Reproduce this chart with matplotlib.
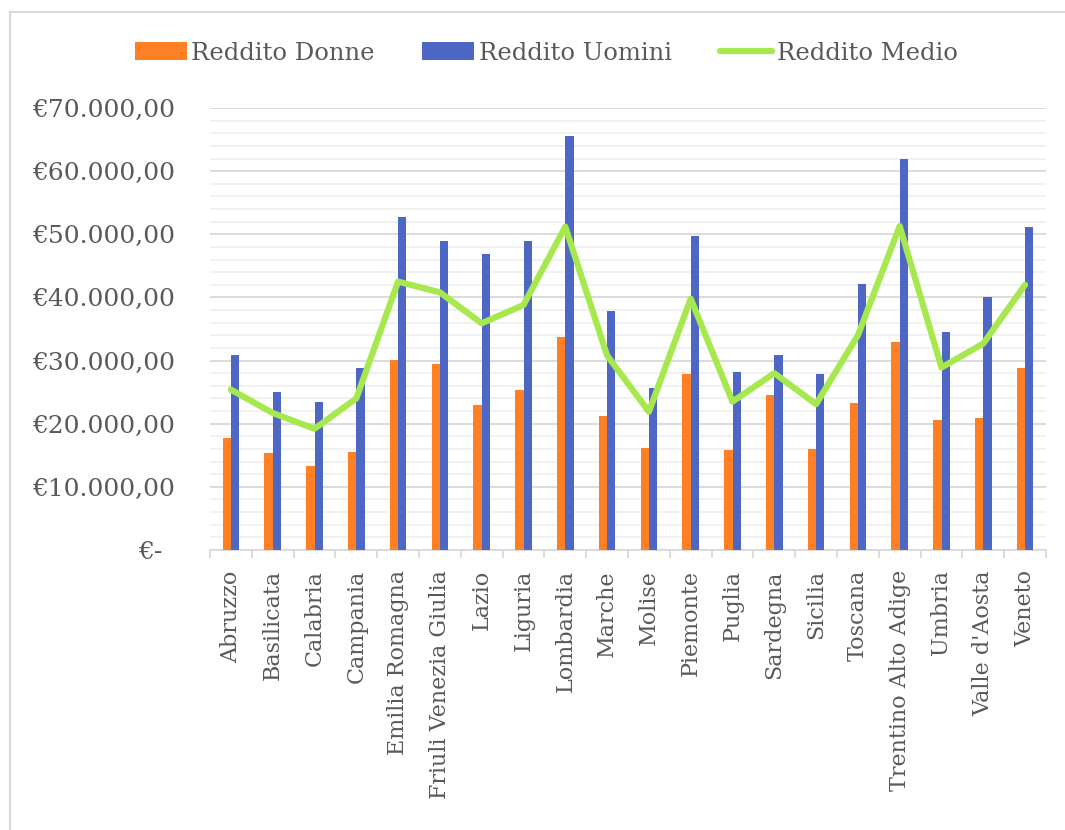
import matplotlib
matplotlib.use("Agg")
import matplotlib.pyplot as plt
from matplotlib.patches import Rectangle
from matplotlib.ticker import FixedLocator, MultipleLocator
import numpy as np

regioni = ["Abruzzo", "Basilicata", "Calabria", "Campania", "Emilia Romagna",
           "Friuli Venezia Giulia", "Lazio", "Liguria", "Lombardia", "Marche",
           "Molise", "Piemonte", "Puglia", "Sardegna", "Sicilia", "Toscana",
           "Trentino Alto Adige", "Umbria", "Valle d'Aosta", "Veneto"]
reddito_donne = [17800, 15400, 13300, 15500, 30100, 29400, 23000, 25300, 33800, 21300,
                 16100, 27900, 15800, 24500, 16000, 23300, 33000, 20600, 20900, 28900]
reddito_uomini = [30900, 25100, 23500, 28900, 52700, 49000, 46900, 48900, 65500, 37800,
                  25700, 49800, 28200, 30900, 27800, 42200, 61900, 34600, 40000, 51200]
reddito_medio = [25400, 21700, 19200, 24000, 42500, 40800, 35900, 38800, 51200, 30800,
                 21900, 39800, 23500, 28000, 23100, 34000, 51300, 28900, 32700, 42000]
y_ticks = [0, 10000, 20000, 30000, 40000, 50000, 60000, 70000]
y_labels = ["€-\u2002", "€10.000,00", "€20.000,00", "€30.000,00", "€40.000,00",
            "€50.000,00", "€60.000,00", "€70.000,00"]

plt.rcParams['font.family'] = ['DejaVu Serif']
TXT = "#595959"
W, H = 1065, 830
fig = plt.figure(figsize=(W / 100, H / 100), dpi=100)
fig.patches.append(Rectangle((10 / W, -0.05), 1.1, 1 - 12 / H + 0.05, transform=fig.transFigure,
                             fill=False, edgecolor="#d9d9d9", linewidth=1.5))

ax = fig.add_axes([210 / W, 1 - 550 / H, (1046 - 210) / W, (550 - 108) / H])
x = np.arange(len(regioni))
bw = 0.2
b1 = ax.bar(x - bw / 2, reddito_donne, width=bw, color="#FF7F24", label="Reddito Donne", zorder=3)
b2 = ax.bar(x + bw / 2, reddito_uomini, width=bw, color="#4E66C4", label="Reddito Uomini", zorder=3)
l1, = ax.plot(x, reddito_medio, color="#A6E84E", linewidth=4.5, solid_capstyle="round",
              solid_joinstyle="round", label="Reddito Medio", zorder=4)

ax.set_xlim(-0.5, len(regioni) - 0.5)
ax.set_ylim(0, 70000)
ax.set_yticks(y_ticks)
ax.set_yticklabels(y_labels)
ax.yaxis.set_minor_locator(MultipleLocator(2000))
ax.grid(which="major", axis="y", color="#d9d9d9", linewidth=1.3, zorder=0)
ax.grid(which="minor", axis="y", color="#f0f0f0", linewidth=1.3, zorder=0)
ax.tick_params(axis="y", which="both", length=0, pad=25, labelsize=17.9, labelcolor=TXT)

ax.set_xticks(x)
ax.set_xticklabels(regioni, rotation=90)
ax.xaxis.set_minor_locator(FixedLocator(np.arange(-0.5, len(regioni), 1.0)))
ax.tick_params(axis="x", which="major", length=0, pad=14.5, labelsize=16.0, labelcolor=TXT)
ax.tick_params(axis="x", which="minor", length=6, width=1.3, color="#d9d9d9", direction="out")

for s in ["top", "right", "left"]:
    ax.spines[s].set_visible(False)
ax.spines["bottom"].set_color("#d9d9d9")
ax.spines["bottom"].set_linewidth(1.3)
ax.set_axisbelow(True)

leg = fig.legend([b1, b2, l1], ["Reddito Donne", "Reddito Uomini", "Reddito Medio"],
                 loc="center", bbox_to_anchor=(546 / W, 1 - 53 / H), ncol=3,
                 frameon=False, fontsize=17.5, handlelength=2.14, handleheight=0.75,
                 handletextpad=0.2, columnspacing=1.95, borderaxespad=0)
for t in leg.get_texts():
    t.set_color(TXT)

fig.savefig("out.png", dpi=100)
